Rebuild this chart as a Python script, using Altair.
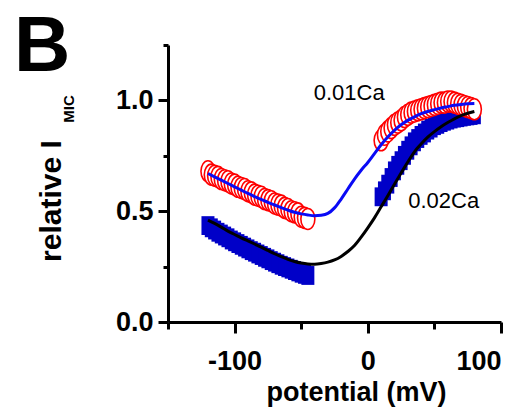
import altair as alt
import pandas as pd

# ---- data ----
left_x = [-120, -117.5, -115, -112.5, -110, -107.5, -105, -102.5, -100, -97.5, -95, -92.5,
          -90, -87.5, -85, -82.5, -80, -77.5, -75, -72.5, -70, -67.5, -65, -62.5, -60,
          -57.5, -55, -52.5, -50, -47.5, -45]
right_x = [10, 12.5, 15, 17.5, 20, 22.5, 25, 27.5, 30, 32.5, 35, 37.5, 40, 42.5, 45, 47.5,
           50, 52.5, 55, 57.5, 60, 62.5, 65, 67.5, 70, 72.5, 75, 77.5, 80]

ca01_left_y = [0.68, 0.665, 0.66, 0.655, 0.645, 0.64, 0.635, 0.625, 0.62, 0.61, 0.605, 0.6,
               0.59, 0.585, 0.575, 0.57, 0.565, 0.555, 0.55, 0.545, 0.535, 0.53, 0.525, 0.515,
               0.51, 0.5, 0.495, 0.49, 0.475, 0.47, 0.465]
ca01_right_y = [0.82, 0.845, 0.86, 0.875, 0.89, 0.9, 0.91, 0.925, 0.935, 0.945, 0.95, 0.955,
                0.96, 0.965, 0.97, 0.975, 0.98, 0.985, 0.99, 0.99, 0.995, 0.995, 0.99, 0.985,
                0.98, 0.975, 0.97, 0.965, 0.96]

ca02_left_y = [0.435, 0.425, 0.415, 0.405, 0.397, 0.388, 0.38, 0.37, 0.362, 0.354, 0.346,
               0.338, 0.33, 0.322, 0.315, 0.307, 0.3, 0.292, 0.285, 0.277, 0.27, 0.263, 0.256,
               0.25, 0.244, 0.238, 0.232, 0.226, 0.22, 0.215, 0.21]
ca02_right_y = [0.565, 0.592, 0.622, 0.652, 0.682, 0.707, 0.728, 0.752, 0.775, 0.795, 0.813,
                0.828, 0.842, 0.853, 0.866, 0.875, 0.886, 0.892, 0.9, 0.906, 0.911, 0.916,
                0.92, 0.922, 0.925, 0.928, 0.93, 0.932, 0.935]

fit_x = [-120, -115, -110, -105, -100, -95, -90, -85, -80, -75, -70, -65, -60, -55, -50, -45,
         -40, -35, -30, -25, -20, -15, -10, -5, 0, 5, 10, 15, 20, 25, 30, 35, 40, 45, 50, 55,
         60, 65, 70, 75, 80]
fit01_y = [0.67, 0.655, 0.64, 0.625, 0.61, 0.595, 0.58, 0.566, 0.553, 0.54, 0.528, 0.516,
           0.505, 0.495, 0.488, 0.483, 0.48, 0.482, 0.49, 0.515, 0.555, 0.6, 0.645, 0.685,
           0.72, 0.76, 0.8, 0.835, 0.865, 0.89, 0.91, 0.926, 0.94, 0.95, 0.958, 0.966, 0.972,
           0.978, 0.982, 0.985, 0.986]
fit02_y = [0.46, 0.445, 0.428, 0.41, 0.395, 0.38, 0.366, 0.352, 0.338, 0.323, 0.308, 0.295,
           0.283, 0.273, 0.266, 0.262, 0.261, 0.264, 0.27, 0.28, 0.296, 0.318, 0.345, 0.383,
           0.425, 0.47, 0.52, 0.57, 0.622, 0.672, 0.722, 0.768, 0.803, 0.834, 0.859, 0.881,
           0.9, 0.917, 0.931, 0.942, 0.95]

label_text = ["0.01Ca", "0.02Ca"]
label_x = [-14, 57]
label_y = [1.0, 0.514]

x_major = [-100, 0, 100]
x_minor = [-150, -50, 50]
y_major = [0.0, 0.5, 1.0]
y_minor = [0.25, 0.75, 1.25]

# ---- tables ----
ca01 = pd.DataFrame({"x": left_x + right_x, "y": ca01_left_y + ca01_right_y})
ca02 = pd.DataFrame({"x": left_x + right_x, "y": ca02_left_y + ca02_right_y})
fit01 = pd.DataFrame({"x": fit_x, "y": fit01_y})
fit02 = pd.DataFrame({"x": fit_x, "y": fit02_y})
labels = pd.DataFrame({"t": label_text, "x": label_x, "y": label_y})

FONT = "Liberation Sans"
xs = alt.Scale(domain=[-150, 100], nice=False, zero=False)
ys = alt.Scale(domain=[0, 1.25], nice=False, zero=False)

RECT = "M-1,-1.45H1V1.45H-1Z"
ELLIPSE = "M-1,0A1,1.5,0,1,0,1,0A1,1.5,0,1,0,-1,0Z"

common_axis = dict(domainColor="black", domainWidth=3, tickColor="black", tickWidth=3,
                   grid=False, labelFont=FONT, labelFontWeight="bold", labelFontSize=27,
                   labelColor="black")

ax_x_major = alt.Axis(values=x_major, tickSize=11, labelPadding=15,
                      labelExpr="'' + datum.value", orient="bottom",
                      title="potential (mV)", titleFont=FONT, titleFontSize=27,
                      titleFontWeight="bold", titleColor="black", titleX=188, titleY=78,
                      titleAlign="center", titleBaseline="alphabetic", **common_axis)
ax_y_major = alt.Axis(values=y_major, tickSize=10, labelPadding=5, format=".1f",
                      orient="left", title=None, **common_axis)
ax_x_minor = alt.Axis(values=x_minor, tickSize=7, labels=False, domain=False,
                      orient="bottom", title=None, tickColor="black", tickWidth=3, grid=False)
ax_y_minor = alt.Axis(values=y_minor, tickSize=5, labels=False, domain=False,
                      orient="left", title=None, tickColor="black", tickWidth=3, grid=False)

squares = alt.Chart(ca02).mark_point(shape=RECT, filled=True, size=169, color="#0000C8",
                                     opacity=1, strokeWidth=0).encode(
    x=alt.X("x:Q", scale=xs, axis=ax_x_major),
    y=alt.Y("y:Q", scale=ys, axis=ax_y_major),
)
minor = alt.Chart(ca02).mark_point(opacity=0).encode(
    x=alt.X("x:Q", scale=xs, axis=ax_x_minor),
    y=alt.Y("y:Q", scale=ys, axis=ax_y_minor),
)
circles = alt.Chart(ca01).mark_point(shape=ELLIPSE, filled=True, fill="white", stroke="#FF0000",
                                     strokeWidth=1.6, size=196, fillOpacity=1,
                                     strokeOpacity=1, opacity=1).encode(
    x=alt.X("x:Q", scale=xs, axis=None),
    y=alt.Y("y:Q", scale=ys, axis=None),
)
line02 = alt.Chart(fit02).mark_line(color="black", strokeWidth=3, interpolate="monotone").encode(
    x=alt.X("x:Q", scale=xs, axis=None),
    y=alt.Y("y:Q", scale=ys, axis=None),
)
line01 = alt.Chart(fit01).mark_line(color="#0A0AF5", strokeWidth=3, interpolate="monotone").encode(
    x=alt.X("x:Q", scale=xs, axis=None),
    y=alt.Y("y:Q", scale=ys, axis=None),
)
series_labels = alt.Chart(labels).mark_text(font=FONT, fontSize=22, color="black",
                                            align="center", baseline="alphabetic").encode(
    x=alt.X("x:Q", scale=xs, axis=None),
    y=alt.Y("y:Q", scale=ys, axis=None),
    text="t:N",
)

panel = alt.Chart(pd.DataFrame({"t": ["B"]})).mark_text(
    font=FONT, fontSize=78, fontWeight="bold", color="black", align="left",
    baseline="alphabetic").encode(text="t:N", x=alt.value(-154), y=alt.value(26))
ytitle = alt.Chart(pd.DataFrame({"t": ["relative I"]})).mark_text(
    font=FONT, fontSize=30, fontWeight="bold", color="black", align="center",
    baseline="alphabetic", angle=270).encode(text="t:N", x=alt.value(-107), y=alt.value(156))
ysub = alt.Chart(pd.DataFrame({"t": ["MIC"]})).mark_text(
    font=FONT, fontSize=15, fontWeight="bold", color="black", align="center",
    baseline="alphabetic", angle=270).encode(text="t:N", x=alt.value(-94), y=alt.value(64))

chart = alt.layer(squares, minor, circles, line02, line01, series_labels, panel, ytitle, ysub
                  ).resolve_axis(x="independent", y="independent").properties(
    width=333, height=277,
    padding={"left": 168, "top": 45, "right": 28, "bottom": 93},
    autosize=alt.AutoSizeParams(type="none"),
).configure_view(stroke=None)

chart.save("out.html", embed_options={"renderer": "svg", "actions": False})
